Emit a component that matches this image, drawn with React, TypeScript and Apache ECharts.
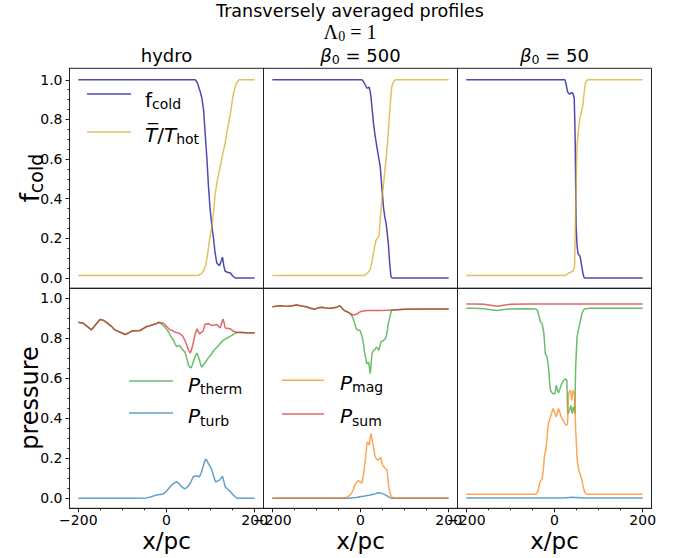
import React, { useEffect, useRef } from "react";
import * as echarts from "echarts";

// ---------- tick values ----------
const xTickValues = [-200, 0, 200];
const xMinorValues = [-150, -100, -50, 50, 100, 150];
const yTickValues = [0, 0.2, 0.4, 0.6, 0.8, 1.0];
const yMinorValues = [0.05, 0.1, 0.15, 0.25, 0.3, 0.35, 0.45, 0.5, 0.55, 0.65, 0.7, 0.75, 0.85, 0.9, 0.95];

// ---------- top row: f_cold and T/T_hot ----------
const fcoldHydro = [[-200,1],[65,1],[70,0.985],[76.5,0.94],[80,0.91],[84,0.85],[88,0.72],[91.7,0.6],[95,0.47],[99,0.345],[103,0.26],[107,0.193],[110,0.13],[114,0.076],[120,0.062],[124,0.085],[127,0.106],[130,0.06],[133,0.034],[140,0.028],[145,0.025],[150,0.01],[156,0],[200,0]];
const tHydro = [[-200,0.012],[65,0.012],[72,0.014],[78,0.02],[84,0.035],[88,0.059],[92,0.1],[95.5,0.16],[99,0.21],[103,0.26],[107,0.34],[110.6,0.43],[116,0.5],[122,0.563],[127,0.62],[133,0.68],[139,0.76],[145,0.83],[152,0.933],[158,0.98],[164,1.0],[200,1.0]];
const fcold500 = [[-200,1],[3,1],[7,0.99],[10.6,0.975],[14.4,0.958],[17,0.96],[19.7,0.963],[22,0.94],[24,0.908],[27,0.84],[29.5,0.78],[33,0.72],[37,0.664],[41,0.61],[44.7,0.563],[48,0.47],[52,0.36],[55,0.31],[58,0.277],[61,0.22],[63.6,0.16],[66,0.08],[69,0.008],[72,0],[200,0]];
const t500 = [[-200,0.012],[7,0.012],[14.4,0.022],[22,0.042],[26,0.08],[29.5,0.126],[33,0.17],[35.6,0.193],[41.7,0.21],[45,0.3],[48.5,0.395],[53,0.49],[58,0.597],[62,0.7],[66,0.832],[69,0.92],[71,0.966],[75,0.99],[79,1.0],[200,1.0]];
const fcold50 = [[-200,1],[24,1],[27,0.97],[29.5,0.94],[33,0.93],[35.6,0.928],[38,0.935],[41.7,0.933],[44.7,0.908],[46,0.8],[47,0.68],[48,0.47],[49,0.26],[51,0.17],[53,0.126],[56,0.115],[58,0.109],[61,0.07],[64,0.03],[66,0.008],[68,0],[200,0]];
const t50 = [[-200,0.012],[24,0.012],[28,0.018],[32,0.025],[38,0.03],[41.7,0.034],[44,0.045],[45.5,0.059],[46.5,0.15],[48,0.345],[49.5,0.52],[51,0.664],[54,0.74],[57,0.8],[61,0.84],[64,0.866],[67,0.93],[70,0.983],[74,0.998],[77,1.0],[200,1.0]];

// ---------- bottom row: pressures ----------
const pThermHydro = [[-200,0.88],[-189,0.875],[-180,0.86],[-170,0.842],[-160,0.87],[-151,0.894],[-143,0.89],[-136,0.88],[-125,0.86],[-117,0.842],[-105,0.83],[-94,0.819],[-85,0.828],[-79,0.836],[-70,0.838],[-60,0.839],[-52,0.85],[-45,0.859],[-38,0.862],[-30,0.869],[-24,0.872],[-18,0.88],[-12,0.872],[-7,0.864],[0,0.845],[5,0.83],[10,0.81],[16,0.789],[20,0.77],[23,0.759],[27,0.762],[30,0.764],[35,0.748],[42,0.731],[46,0.7],[50,0.664],[53,0.655],[56,0.653],[59,0.67],[63,0.698],[66,0.715],[69,0.726],[72,0.71],[75,0.689],[78,0.665],[80,0.656],[83,0.665],[86,0.673],[90,0.685],[95,0.703],[100,0.715],[107,0.739],[112,0.75],[118,0.764],[124,0.78],[130,0.792],[136,0.8],[141,0.806],[148,0.815],[156,0.826],[167,0.83],[180,0.828],[200,0.826]];
const pSumHydro = [[-200,0.88],[-189,0.875],[-180,0.86],[-170,0.842],[-160,0.87],[-151,0.894],[-143,0.89],[-136,0.88],[-125,0.86],[-117,0.842],[-105,0.83],[-94,0.819],[-85,0.828],[-79,0.836],[-70,0.838],[-60,0.839],[-52,0.85],[-45,0.859],[-38,0.862],[-30,0.869],[-24,0.872],[-18,0.88],[-12,0.878],[-7,0.875],[0,0.86],[8,0.842],[14,0.838],[20,0.83],[25,0.828],[31,0.822],[37,0.81],[42,0.789],[46,0.765],[50,0.74],[54,0.726],[57,0.745],[61,0.78],[65,0.82],[69,0.847],[72,0.835],[75,0.822],[79,0.83],[83,0.836],[86,0.86],[88,0.872],[92,0.87],[95,0.875],[99,0.868],[103,0.864],[108,0.866],[114,0.869],[118,0.86],[122,0.852],[125,0.875],[128,0.897],[131,0.875],[133,0.852],[138,0.85],[145,0.847],[152,0.835],[160,0.83],[180,0.828],[200,0.826]];
const pTurbHydro = [[-200,0],[-60,0],[-45,0.002],[-35,0.008],[-22,0.017],[-7,0.022],[0,0.035],[8,0.058],[15,0.072],[23,0.083],[27,0.076],[31,0.066],[36,0.055],[42,0.047],[48,0.058],[54,0.075],[58,0.095],[61,0.108],[65,0.112],[69,0.111],[75,0.108],[79,0.13],[83,0.158],[86,0.18],[89,0.196],[92,0.188],[95,0.174],[99,0.16],[103,0.141],[107,0.11],[111,0.083],[115,0.085],[120,0.091],[124,0.1],[127,0.111],[130,0.085],[133,0.058],[139,0.045],[145,0.033],[152,0.015],[160,0],[200,0]];

const pTherm500 = [[-200,0.958],[-192,0.96],[-183,0.963],[-174,0.961],[-164,0.96],[-155,0.963],[-145,0.967],[-134,0.962],[-123,0.958],[-113,0.95],[-104,0.945],[-96,0.952],[-88,0.955],[-78,0.952],[-69,0.95],[-60,0.953],[-54,0.955],[-47,0.963],[-43,0.955],[-39,0.942],[-33,0.935],[-28,0.93],[-24,0.925],[-20,0.914],[-16,0.895],[-13,0.872],[-10,0.85],[-7,0.842],[-1,0.839],[4,0.806],[7,0.77],[9,0.731],[12,0.7],[14,0.673],[16,0.676],[18,0.681],[20,0.66],[22,0.623],[24,0.67],[26,0.723],[29,0.739],[33,0.745],[36,0.756],[39,0.75],[41,0.739],[44,0.76],[46,0.781],[49,0.785],[52,0.789],[55,0.795],[58,0.806],[61,0.84],[63,0.872],[67,0.91],[70,0.939],[75,0.942],[100,0.945],[150,0.946],[200,0.947]];
const pSum500 = [[-200,0.958],[-192,0.96],[-183,0.963],[-174,0.961],[-164,0.96],[-155,0.963],[-145,0.967],[-134,0.962],[-123,0.958],[-113,0.95],[-104,0.945],[-96,0.952],[-88,0.955],[-78,0.952],[-69,0.95],[-60,0.953],[-54,0.955],[-47,0.963],[-43,0.955],[-39,0.942],[-33,0.935],[-28,0.93],[-24,0.925],[-20,0.92],[-16,0.916],[-9,0.92],[-3,0.93],[3,0.935],[10,0.938],[22,0.939],[44,0.939],[60,0.94],[75,0.942],[100,0.945],[150,0.946],[200,0.947]];
const pMag500 = [[-200,0.002],[-40,0.002],[-31,0.005],[-25,0.015],[-20,0.025],[-16,0.045],[-13,0.066],[-9,0.08],[-5,0.088],[0,0.082],[3,0.075],[7,0.12],[10,0.174],[13,0.24],[15,0.282],[18,0.275],[20,0.266],[22,0.3],[24,0.324],[26,0.3],[28,0.274],[31,0.235],[33,0.208],[37,0.195],[40,0.191],[43,0.198],[46,0.204],[48,0.185],[50,0.166],[53,0.158],[56,0.15],[60,0.141],[62,0.11],[63,0.075],[66,0.035],[70,0.008],[75,0.002],[200,0.002]];
const pTurb500 = [[-200,0],[-30,0],[-10,0.004],[-1,0.008],[10,0.012],[22,0.017],[32,0.022],[40,0.028],[46,0.026],[52,0.022],[58,0.015],[63,0.008],[68,0.002],[75,0],[200,0]];

const pSum50 = [[-200,0.972],[-180,0.972],[-160,0.97],[-145,0.965],[-130,0.96],[-115,0.965],[-100,0.97],[-60,0.971],[0,0.971],[50,0.972],[100,0.972],[200,0.972]];
const pTherm50 = [[-200,0.95],[-180,0.95],[-160,0.948],[-145,0.943],[-130,0.939],[-115,0.944],[-100,0.947],[-60,0.948],[-43,0.947],[-40,0.942],[-38,0.935],[-35,0.91],[-33,0.889],[-30,0.878],[-28,0.872],[-26,0.85],[-24,0.822],[-22,0.76],[-21,0.723],[-19,0.715],[-17,0.709],[-15,0.68],[-13,0.64],[-11,0.58],[-9,0.54],[-6,0.528],[-3,0.523],[1,0.523],[4,0.565],[7,0.54],[9,0.527],[12,0.545],[15,0.565],[18,0.58],[21,0.59],[25,0.598],[28,0.59],[29,0.5],[30,0.424],[32,0.43],[34,0.44],[36,0.455],[37,0.465],[39,0.44],[40,0.424],[42,0.45],[43,0.457],[45,0.44],[46,0.424],[47,0.55],[48,0.656],[50,0.75],[51,0.806],[54,0.84],[57,0.872],[60,0.9],[62,0.922],[65,0.938],[68,0.947],[81,0.95],[200,0.95]];
const pMag50 = [[-200,0.02],[-43,0.02],[-40,0.025],[-38,0.033],[-35,0.06],[-33,0.083],[-30,0.092],[-28,0.1],[-25,0.15],[-23,0.208],[-21,0.23],[-19,0.249],[-17,0.3],[-15,0.357],[-12,0.39],[-9,0.407],[-6,0.43],[-3,0.449],[0,0.432],[2,0.42],[4,0.407],[7,0.43],[9,0.449],[12,0.43],[15,0.407],[18,0.395],[21,0.382],[24,0.372],[27,0.365],[29,0.37],[30,0.39],[31,0.47],[32,0.523],[34,0.535],[36,0.54],[38,0.51],[39,0.49],[40,0.51],[42,0.54],[44,0.53],[46,0.507],[47,0.42],[48,0.34],[50,0.26],[51,0.208],[53,0.17],[55,0.141],[58,0.12],[62,0.091],[65,0.06],[68,0.033],[71,0.024],[73,0.02],[200,0.02]];
const pTurb50 = [[-200,0.002],[20,0.002],[40,0.005],[50,0.004],[70,0.002],[200,0.002]];

// ---------- colours ----------
const C_FCOLD = "#00008b";
const C_T = "#daa520";
const C_THERM = "#2ca02c";
const C_TURB = "#1f77b4";
const C_MAG = "#ff7f0e";
const C_SUM = "#d62728";
const AXIS = "#222";
const FONT = "DejaVu Sans";

export default function App() {
  const ref = useRef<HTMLDivElement>(null);

  useEffect(() => {
    const chart = echarts.init(ref.current!, null, { renderer: "svg" });

    const L = 69.5, W = 194, H = 220;
    const tops = [68.3, 288.3];
    const yRanges = [[-0.052, 1.058], [-0.05, 1.05]];

    const grid: any[] = [];
    const xAxis: any[] = [];
    const yAxis: any[] = [];
    const series: any[] = [];

    for (let r = 0; r < 2; r++) {
      for (let c = 0; c < 3; c++) {
        const i = r * 3 + c;
        grid.push({ left: L + c * W, top: tops[r], width: W, height: H, show: true, borderColor: AXIS, borderWidth: 1, backgroundColor: "transparent" });
        const bottom = r === 1;
        xAxis.push({
          gridIndex: i, type: "value", min: -220, max: 220, position: "bottom",
          axisLine: { show: true, onZero: false, lineStyle: { color: AXIS, width: 1 } },
          axisTick: { show: bottom, customValues: xTickValues, length: 4, lineStyle: { color: AXIS } },
          axisLabel: { show: bottom, customValues: xTickValues, formatter: (v: number) => String(v).replace("-", "\u2212"), fontSize: 14, fontFamily: FONT, color: "#000", margin: 5 },
          splitLine: { show: false },
        });
        yAxis.push({
          gridIndex: i, type: "value", min: yRanges[r][0], max: yRanges[r][1], position: "left",
          axisLine: { show: true, onZero: false, lineStyle: { color: AXIS, width: 1 } },
          axisTick: { show: c === 0, customValues: yTickValues, length: 4, lineStyle: { color: AXIS } },
          axisLabel: { show: c === 0, customValues: yTickValues, formatter: (v: number) => v.toFixed(1), fontSize: 14, fontFamily: FONT, color: "#000", margin: 7 },
          splitLine: { show: false },
        });
      }
    }
    // minor ticks
    for (let c = 0; c < 3; c++) {
      xAxis.push({
        gridIndex: 3 + c, type: "value", min: -220, max: 220, position: "bottom",
        axisLine: { show: false, onZero: false },
        axisTick: { show: true, customValues: xMinorValues, length: 2, lineStyle: { color: AXIS } },
        axisLabel: { show: false }, splitLine: { show: false },
      });
    }
    [0, 3].forEach((gi, k) => {
      yAxis.push({
        gridIndex: gi, type: "value", min: yRanges[k][0], max: yRanges[k][1], position: "left",
        axisLine: { show: false, onZero: false },
        axisTick: { show: true, customValues: yMinorValues, length: 2, lineStyle: { color: AXIS } },
        axisLabel: { show: false }, splitLine: { show: false },
      });
    });

    const line = (name: string, idx: number, data: number[][], color: string) => ({
      name, type: "line", xAxisIndex: idx, yAxisIndex: idx, data, symbol: "none", showSymbol: false,
      lineStyle: { color, width: 1.5, opacity: 0.7 }, itemStyle: { color }, silent: true,
    });

    series.push(line("f_cold", 0, fcoldHydro, C_FCOLD), line("T/T_hot", 0, tHydro, C_T));
    series.push(line("f_cold", 1, fcold500, C_FCOLD), line("T/T_hot", 1, t500, C_T));
    series.push(line("f_cold", 2, fcold50, C_FCOLD), line("T/T_hot", 2, t50, C_T));
    series.push(line("P_therm", 3, pThermHydro, C_THERM), line("P_turb", 3, pTurbHydro, C_TURB), line("P_sum", 3, pSumHydro, C_SUM));
    series.push(line("P_therm", 4, pTherm500, C_THERM), line("P_turb", 4, pTurb500, C_TURB), line("P_mag", 4, pMag500, C_MAG), line("P_sum", 4, pSum500, C_SUM));
    series.push(line("P_therm", 5, pTherm50, C_THERM), line("P_turb", 5, pTurb50, C_TURB), line("P_mag", 5, pMag50, C_MAG), line("P_sum", 5, pSum50, C_SUM));

    const legRich = {
      m: { fontSize: 20, fontFamily: FONT, lineHeight: 24, fill: "#000" },
      i: { fontSize: 20, fontFamily: FONT, fontStyle: "italic", lineHeight: 24, fill: "#000" },
      s: { fontSize: 14, fontFamily: FONT, lineHeight: 14, padding: [9, 0, 0, 0], fill: "#000" },
    };
    const legLine = (x1: number, x2: number, y: number, color: string) => ({
      type: "line", shape: { x1, y1: y, x2, y2: y }, style: { stroke: color, lineWidth: 1.5, opacity: 0.7 }, silent: true,
    });
    const legText = (x: number, y: number, text: string) => ({
      type: "text", x, y, silent: true,
      style: { text, rich: legRich, align: "left", verticalAlign: "middle", fill: "#000" },
    });

    const titleRich = {
      m: { fontSize: 18, fontFamily: FONT, lineHeight: 22, fill: "#000" },
      i: { fontSize: 18, fontFamily: FONT, fontStyle: "italic", lineHeight: 22, fill: "#000" },
      s: { fontSize: 12.6, fontFamily: FONT, lineHeight: 13, padding: [8, 0, 0, 0], fill: "#000" },
    };
    const serifRich = {
      m: { fontSize: 20, fontFamily: "Liberation Serif", lineHeight: 24, fill: "#000" },
      s: { fontSize: 14, fontFamily: "Liberation Serif", lineHeight: 14, padding: [9, 0, 0, 0], fill: "#000" },
    };
    const ylabRich = {
      m: { fontSize: 26, fontFamily: FONT, lineHeight: 30, fill: "#000" },
      s: { fontSize: 19, fontFamily: FONT, lineHeight: 19, padding: [11, 0, 0, 0], fill: "#000" },
    };
    const colCenters = [0, 1, 2].map((c) => L + c * W + W / 2);

    const graphic: any[] = [
      { type: "text", x: 350, y: 11, silent: true, style: { text: "Transversely averaged profiles", fontSize: 17.5, fontFamily: FONT, fill: "#000", align: "center", verticalAlign: "middle" } },
      { type: "text", x: 350, y: 32, silent: true, style: { text: "{m|\u039B}{s|0}{m| = 1}", rich: serifRich, align: "center", verticalAlign: "middle" } },
      { type: "text", x: colCenters[0], y: 55, silent: true, style: { text: "{m|hydro}", rich: titleRich, align: "center", verticalAlign: "middle" } },
      { type: "text", x: colCenters[1], y: 55, silent: true, style: { text: "{i|\u03B2}{s|0}{m| = 500}", rich: titleRich, align: "center", verticalAlign: "middle" } },
      { type: "text", x: colCenters[2], y: 55, silent: true, style: { text: "{i|\u03B2}{s|0}{m| = 50}", rich: titleRich, align: "center", verticalAlign: "middle" } },
      { type: "text", x: 30, y: 178, rotation: Math.PI / 2, silent: true, style: { text: "{m|f}{s|cold}", rich: ylabRich, align: "center", verticalAlign: "middle" } },
      { type: "text", x: 30, y: 398, rotation: Math.PI / 2, silent: true, style: { text: "pressure", fontSize: 24, fontFamily: FONT, fill: "#000", align: "center", verticalAlign: "middle" } },
      ...colCenters.map((cx) => ({ type: "text", x: cx, y: 541, silent: true, style: { text: "x/pc", fontSize: 23, fontFamily: FONT, fill: "#000", align: "center", verticalAlign: "middle" } })),
      // legends
      legLine(87, 131, 94, C_FCOLD),
      legText(145, 99.7, "{m|f}{s|cold}"),
      legLine(87, 131, 132, C_T),
      legText(145, 134.7, "{i|T\u0305}{m|/}{i|T}{s|hot}"),
      legLine(129, 173, 381, C_THERM),
      legText(188, 384.7, "{i|P}{s|therm}"),
      legLine(129, 173, 413, C_TURB),
      legText(188, 416.3, "{i|P}{s|turb}"),
      legLine(282, 324, 380.3, C_MAG),
      legText(340, 382.5, "{i|P}{s|mag}"),
      legLine(282, 324, 414, C_SUM),
      legText(340, 416, "{i|P}{s|sum}"),
    ];

    chart.setOption({
      animation: false,
      backgroundColor: "#fff",
      textStyle: { fontFamily: FONT },
      grid, xAxis, yAxis, series, graphic,
    });
    return () => chart.dispose();
  }, []);

  return <div ref={ref} style={{ position: "fixed", left: 0, top: 0, width: 681, height: 558 }} />;
}
